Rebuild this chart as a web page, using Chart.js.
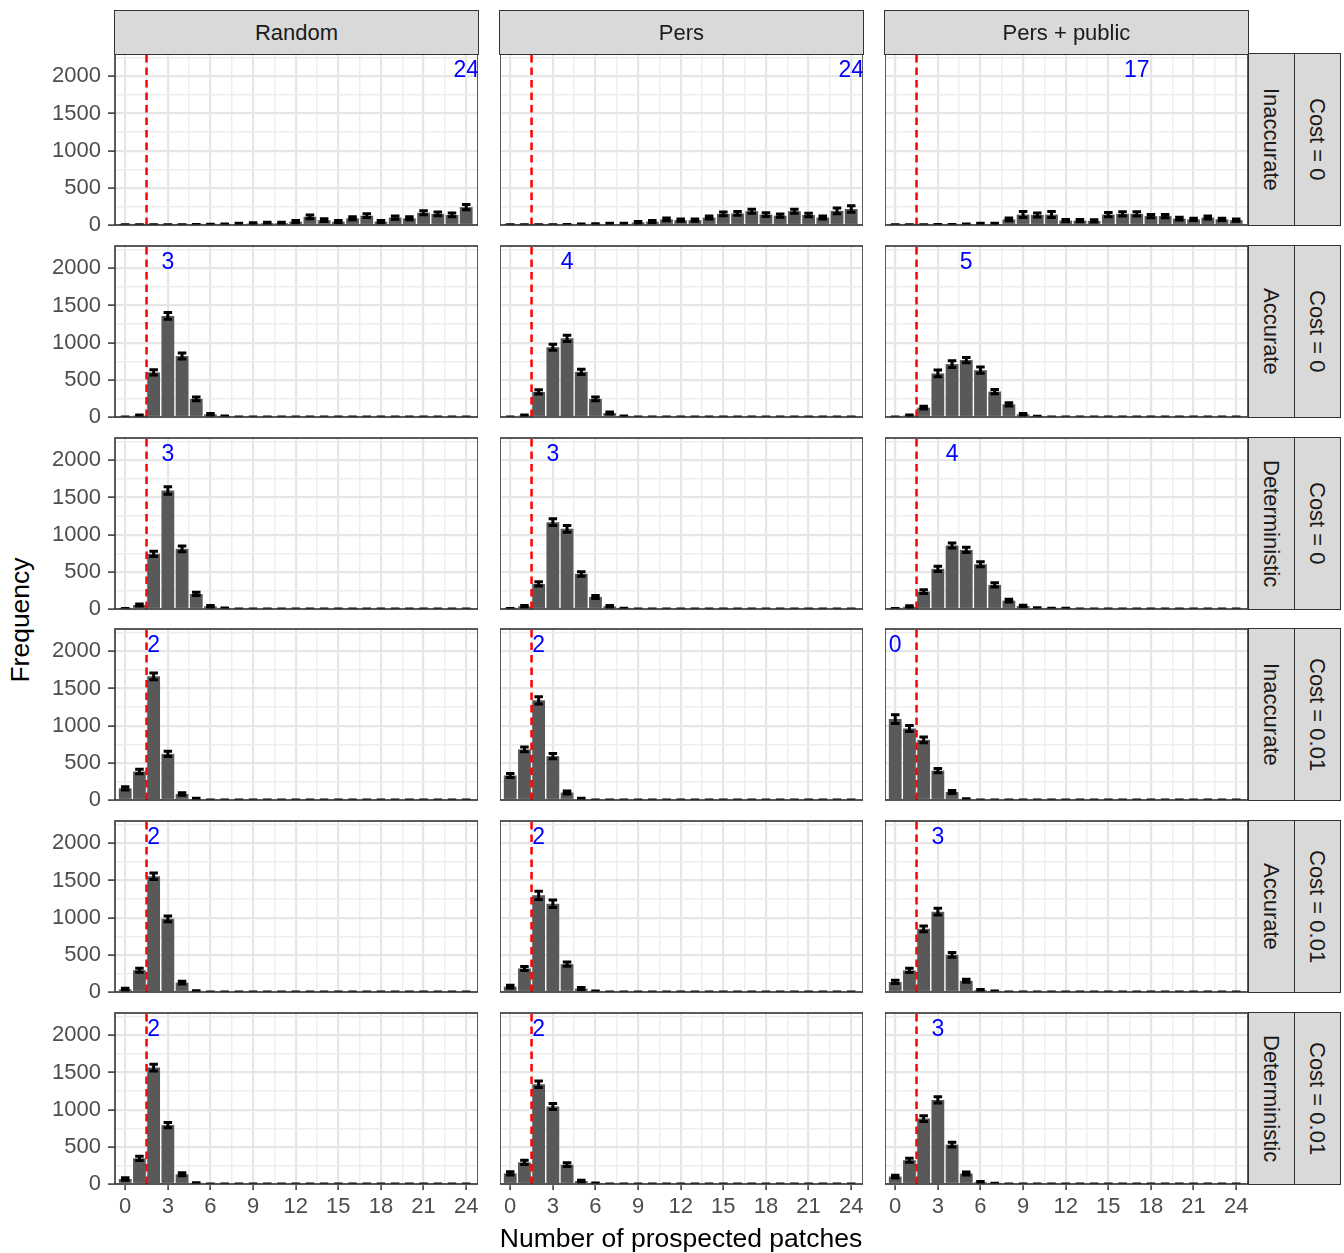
<!DOCTYPE html>
<html>
<head>
<meta charset="utf-8">
<title>Number of prospected patches</title>
<script src="https://cdn.jsdelivr.net/npm/chart.js@4.4.1/dist/chart.umd.min.js"></script>
<style>
  body { margin: 0; background: #fff; font-family: "Liberation Sans", Arial, Helvetica, sans-serif; }
  #fig { position: relative; width: 1344px; height: 1253px; overflow: hidden; }
  #fig canvas { position: absolute; }
  .strip { position: absolute; box-sizing: border-box; background: #d9d9d9; border: 1.6px solid #333;
           display: flex; align-items: center; justify-content: center; font-size: 22px; color: #1a1a1a; }
  .strip.v span { writing-mode: vertical-rl; }
  .title { position: absolute; font-size: 26.5px; color: #000; white-space: nowrap; }
</style>
</head>
<body>
<div id="fig"></div>
<script>
// x categories: number of prospected patches
const patches = [0,1,2,3,4,5,6,7,8,9,10,11,12,13,14,15,16,17,18,19,20,21,22,23,24];
const xTicks = [0,3,6,9,12,15,18,21,24];
const yTicks = [0,500,1000,1500,2000];
const methods = ["Random", "Pers", "Pers + public"];
const infoLevels = ["Inaccurate", "Accurate", "Deterministic"];
const costs = ["Cost = 0", "Cost = 0.01"];
const cutoff = 1.5;

// Cost = 0, Inaccurate
const c0InaccRandom    = [3,3,3,3,3,4,5,8,15,20,25,25,45,110,65,45,90,125,45,100,90,165,150,135,240];
const c0InaccRandomErr = [2,2,2,2,2,3,4,5,8,10,12,12,15,25,18,15,20,25,15,22,20,28,25,25,35];
const c0InaccPers      = [2,2,2,3,5,10,12,15,15,35,45,75,65,65,100,150,155,185,140,125,185,135,100,190,215];
const c0InaccPersErr   = [2,2,2,2,3,5,6,7,7,12,14,18,16,16,20,25,25,28,24,22,28,24,20,40,45];
const c0InaccPublic    = [2,2,2,5,5,10,15,15,75,140,135,140,60,58,55,140,150,150,120,120,85,75,100,75,65];
const c0InaccPublicErr = [2,2,2,3,3,5,7,7,18,40,28,40,15,15,15,28,28,28,22,22,18,16,20,16,15];
// Cost = 0, Accurate
const c0AccRandom    = [0,20,600,1360,820,245,36,8,0,0,0,0,0,0,0,0,0,0,0,0,0,0,0,0,0];
const c0AccRandomErr = [0,8,35,45,40,25,12,5,0,0,0,0,0,0,0,0,0,0,0,0,0,0,0,0,0];
const c0AccPers      = [0,20,338,937,1058,608,243,54,8,0,0,0,0,0,0,0,0,0,0,0,0,0,0,0,0];
const c0AccPersErr   = [0,8,30,40,42,35,25,14,5,0,0,0,0,0,0,0,0,0,0,0,0,0,0,0,0];
const c0AccPublic    = [0,20,126,586,712,766,630,342,171,36,5,0,0,0,0,0,0,0,0,0,0,0,0,0,0];
const c0AccPublicErr = [0,8,20,45,45,35,42,28,22,12,4,0,0,0,0,0,0,0,0,0,0,0,0,0,0];
// Cost = 0, Deterministic
const c0DetRandom    = [5,54,742,1595,809,202,36,8,0,0,0,0,0,0,0,0,0,0,0,0,0,0,0,0,0];
const c0DetRandomErr = [3,14,35,50,40,22,12,5,0,0,0,0,0,0,0,0,0,0,0,0,0,0,0,0,0];
const c0DetPers      = [5,36,337,1168,1078,472,162,36,5,0,0,0,0,0,0,0,0,0,0,0,0,0,0,0,0];
const c0DetPersErr   = [3,12,28,45,45,30,20,12,4,0,0,0,0,0,0,0,0,0,0,0,0,0,0,0,0];
const c0DetPublic    = [5,31,234,540,854,795,602,324,112,40,10,5,5,0,0,0,0,0,0,0,0,0,0,0,0];
const c0DetPublicErr = [3,12,25,35,35,35,35,28,18,12,6,4,4,0,0,0,0,0,0,0,0,0,0,0,0];
// Cost = 0.01, Inaccurate
const c1InaccRandom    = [157,382,1663,620,81,15,0,0,0,0,0,0,0,0,0,0,0,0,0,0,0,0,0,0,0];
const c1InaccRandomErr = [22,30,45,35,18,8,0,0,0,0,0,0,0,0,0,0,0,0,0,0,0,0,0,0,0];
const c1InaccPers      = [330,680,1340,590,100,15,0,0,0,0,0,0,0,0,0,0,0,0,0,0,0,0,0,0,0];
const c1InaccPersErr   = [28,32,50,35,20,8,0,0,0,0,0,0,0,0,0,0,0,0,0,0,0,0,0,0,0];
const c1InaccPublic    = [1088,962,809,395,108,10,0,0,0,0,0,0,0,0,0,0,0,0,0,0,0,0,0,0,0];
const c1InaccPublicErr = [60,40,40,30,20,6,0,0,0,0,0,0,0,0,0,0,0,0,0,0,0,0,0,0,0];
// Cost = 0.01, Accurate
const c1AccRandom    = [36,293,1557,984,126,10,0,0,0,0,0,0,0,0,0,0,0,0,0,0,0,0,0,0,0];
const c1AccRandomErr = [14,28,45,38,20,6,0,0,0,0,0,0,0,0,0,0,0,0,0,0,0,0,0,0,0];
const c1AccPers      = [72,316,1300,1187,375,45,8,0,0,0,0,0,0,0,0,0,0,0,0,0,0,0,0,0,0];
const c1AccPersErr   = [18,28,55,50,30,14,5,0,0,0,0,0,0,0,0,0,0,0,0,0,0,0,0,0,0];
const c1AccPublic    = [135,290,850,1080,500,150,25,8,0,0,0,0,0,0,0,0,0,0,0,0,0,0,0,0,0];
const c1AccPublicErr = [22,28,38,45,32,20,10,5,0,0,0,0,0,0,0,0,0,0,0,0,0,0,0,0,0];
// Cost = 0.01, Deterministic
const c1DetRandom    = [67,345,1566,792,130,10,0,0,0,0,0,0,0,0,0,0,0,0,0,0,0,0,0,0,0];
const c1DetRandomErr = [18,28,45,35,20,6,0,0,0,0,0,0,0,0,0,0,0,0,0,0,0,0,0,0,0];
const c1DetPers      = [143,291,1342,1042,260,40,8,0,0,0,0,0,0,0,0,0,0,0,0,0,0,0,0,0,0];
const c1DetPersErr   = [22,28,45,40,25,12,5,0,0,0,0,0,0,0,0,0,0,0,0,0,0,0,0,0,0];
const c1DetPublic    = [100,320,880,1130,530,140,25,5,0,0,0,0,0,0,0,0,0,0,0,0,0,0,0,0,0];
const c1DetPublicErr = [18,28,38,42,32,20,10,4,0,0,0,0,0,0,0,0,0,0,0,0,0,0,0,0,0];

// blue labels (mode of each panel)
const modeLabels = [[24,24,17],[3,4,5],[3,3,4],[2,2,0],[2,2,3],[2,2,3]];

const freqRows = [
  [c0InaccRandom, c0InaccPers, c0InaccPublic],
  [c0AccRandom, c0AccPers, c0AccPublic],
  [c0DetRandom, c0DetPers, c0DetPublic],
  [c1InaccRandom, c1InaccPers, c1InaccPublic],
  [c1AccRandom, c1AccPers, c1AccPublic],
  [c1DetRandom, c1DetPers, c1DetPublic]
];
const errRows = [
  [c0InaccRandomErr, c0InaccPersErr, c0InaccPublicErr],
  [c0AccRandomErr, c0AccPersErr, c0AccPublicErr],
  [c0DetRandomErr, c0DetPersErr, c0DetPublicErr],
  [c1InaccRandomErr, c1InaccPersErr, c1InaccPublicErr],
  [c1AccRandomErr, c1AccPersErr, c1AccPublicErr],
  [c1DetRandomErr, c1DetPersErr, c1DetPublicErr]
];

// layout
const colLeft = [115, 500, 885];
const panelW = 363, panelH = 171;
const rowTop = [54, 246, 438, 629, 821, 1013];
const yAxisW = 75, xAxisH = 46, pad = 10;
const X_MIN = -0.72, X_MAX = 24.83, Y_MAX = 2300, LABEL_Y = 2070;

Chart.defaults.font.family = '"Liberation Sans", Arial, Helvetica, sans-serif';

const xMinor = xTicks.map(v => v + 1.5).filter(v => v < X_MAX);
const yMinor = yTicks.map(v => v + 250).filter(v => v < Y_MAX);
const xGrid = xTicks.concat(xMinor).sort((a, b) => a - b);
const yGrid = yTicks.concat(yMinor).sort((a, b) => a - b);

const fig = document.getElementById('fig');

const decor = {
  id: 'decor',
  afterDatasetsDraw(chart, args, opts) {
    const { ctx, chartArea: a, scales: { x, y } } = chart;
    ctx.save();
    ctx.beginPath();
    ctx.rect(a.left, a.top, a.right - a.left, a.bottom - a.top);
    ctx.clip();
    // error bars
    ctx.strokeStyle = '#000';
    ctx.lineWidth = 3;
    const half = x.getPixelForValue(0.3) - x.getPixelForValue(0);
    patches.forEach((p, i) => {
      const px = x.getPixelForValue(p);
      const lo = y.getPixelForValue(Math.max(0, opts.vals[i] - opts.errs[i]));
      const hi = y.getPixelForValue(opts.vals[i] + opts.errs[i]);
      ctx.beginPath();
      ctx.moveTo(px - half, hi); ctx.lineTo(px + half, hi);
      ctx.moveTo(px - half, lo); ctx.lineTo(px + half, lo);
      ctx.moveTo(px, hi); ctx.lineTo(px, lo);
      ctx.stroke();
    });
    // threshold line
    const cx = x.getPixelForValue(cutoff);
    ctx.strokeStyle = '#ff0000';
    ctx.lineWidth = 2.5;
    ctx.setLineDash([7.5, 5]);
    ctx.beginPath();
    ctx.moveTo(cx, a.bottom); ctx.lineTo(cx, a.top);
    ctx.stroke();
    ctx.setLineDash([]);
    // mode label
    ctx.fillStyle = '#0000ff';
    ctx.font = '23px "Liberation Sans", Arial, sans-serif';
    ctx.textAlign = 'center';
    ctx.textBaseline = 'middle';
    ctx.fillText(String(opts.mode), x.getPixelForValue(opts.mode), y.getPixelForValue(LABEL_Y));
    ctx.restore();
    // panel border
    ctx.save();
    ctx.strokeStyle = '#333';
    ctx.lineWidth = 1.6;
    ctx.strokeRect(a.left, a.top, a.right - a.left, a.bottom - a.top);
    ctx.restore();
  }
};

function makePanel(r, c) {
  const showY = c === 0, showX = r === freqRows.length - 1;
  const vals = freqRows[r][c], errs = errRows[r][c];
  const canvas = document.createElement('canvas');
  const w = panelW + (showY ? yAxisW : 0);
  const h = panelH + pad + (showX ? xAxisH : pad);
  canvas.width = w; canvas.height = h;
  canvas.style.width = w + 'px'; canvas.style.height = h + 'px';
  canvas.style.left = (colLeft[c] - (showY ? yAxisW : 0)) + 'px';
  canvas.style.top = (rowTop[r] - pad) + 'px';
  fig.appendChild(canvas);

  new Chart(canvas, {
    type: 'bar',
    data: {
      datasets: [{
        data: patches.map((p, i) => ({ x: p, y: vals[i] })),
        backgroundColor: '#595959',
        borderWidth: 0,
        barPercentage: 0.9,
        categoryPercentage: 1
      }]
    },
    options: {
      responsive: false,
      animation: false,
      events: [],
      layout: { padding: { top: pad, bottom: showX ? 0 : pad, left: 0, right: 0 } },
      plugins: {
        legend: { display: false },
        tooltip: { enabled: false },
        decor: { vals, errs, mode: modeLabels[r][c] }
      },
      scales: {
        x: {
          type: 'linear', min: X_MIN, max: X_MAX, offset: false,
          afterBuildTicks: s => { s.ticks = xGrid.map(v => ({ value: v })); },
          afterFit: s => { s.height = showX ? xAxisH : 0; s.paddingLeft = 0; s.paddingRight = 0; },
          border: { display: false },
          grid: {
            offset: false,
            color: ctx => xTicks.includes(ctx.tick.value) ? '#e6e6e6' : '#ededed',
            lineWidth: ctx => xTicks.includes(ctx.tick.value) ? 2.2 : 1.4,
            drawTicks: showX,
            tickLength: 6,
            tickWidth: 1.5,
            tickColor: ctx => xTicks.includes(ctx.tick.value) ? '#333' : 'rgba(0,0,0,0)'
          },
          ticks: {
            display: showX, autoSkip: false, maxRotation: 0, padding: 4,
            color: '#4d4d4d', font: { size: 22 },
            callback: v => xTicks.includes(v) ? String(v) : ''
          }
        },
        y: {
          type: 'linear', min: 0, max: Y_MAX,
          afterBuildTicks: s => { s.ticks = yGrid.map(v => ({ value: v })); },
          afterFit: s => { s.width = showY ? yAxisW : 0; s.paddingTop = 0; s.paddingBottom = 0; },
          border: { display: false },
          grid: {
            color: ctx => yTicks.includes(ctx.tick.value) ? '#e6e6e6' : '#ededed',
            lineWidth: ctx => yTicks.includes(ctx.tick.value) ? 2.2 : 1.4,
            drawTicks: showY,
            tickLength: 7,
            tickWidth: 1.5,
            tickColor: ctx => yTicks.includes(ctx.tick.value) ? '#333' : 'rgba(0,0,0,0)'
          },
          ticks: {
            display: showY, autoSkip: false, padding: 7,
            color: '#4d4d4d', font: { size: 22 },
            callback: v => yTicks.includes(v) ? String(v) : ''
          }
        }
      }
    },
    plugins: [decor]
  });
}

for (let r = 0; r < freqRows.length; r++)
  for (let c = 0; c < methods.length; c++) makePanel(r, c);

// facet strips
function addStrip(text, left, top, width, height, vertical) {
  const d = document.createElement('div');
  d.className = 'strip' + (vertical ? ' v' : '');
  Object.assign(d.style, { left: left + 'px', top: top + 'px', width: width + 'px', height: height + 'px' });
  const s = document.createElement('span');
  s.textContent = text;
  d.appendChild(s);
  fig.appendChild(d);
}
methods.forEach((m, c) => addStrip(m, colLeft[c] - 0.8, 10, panelW + 1.6, 45, false));
rowTop.forEach((t, r) => {
  addStrip(infoLevels[r % 3], 1247.5, t - 0.8, 47.5, panelH + 1.6, true);
  addStrip(costs[Math.floor(r / 3)], 1293.5, t - 0.8, 47, panelH + 1.6, true);
});

// axis titles
const yt = document.createElement('div');
yt.className = 'title';
yt.textContent = 'Frequency';
Object.assign(yt.style, { left: '20px', top: '620px', transform: 'translate(-50%, -50%) rotate(-90deg)' });
fig.appendChild(yt);
const xt = document.createElement('div');
xt.className = 'title';
xt.textContent = 'Number of prospected patches';
Object.assign(xt.style, { left: '681px', top: '1238px', transform: 'translate(-50%, -50%)' });
fig.appendChild(xt);
</script>
</body>
</html>
